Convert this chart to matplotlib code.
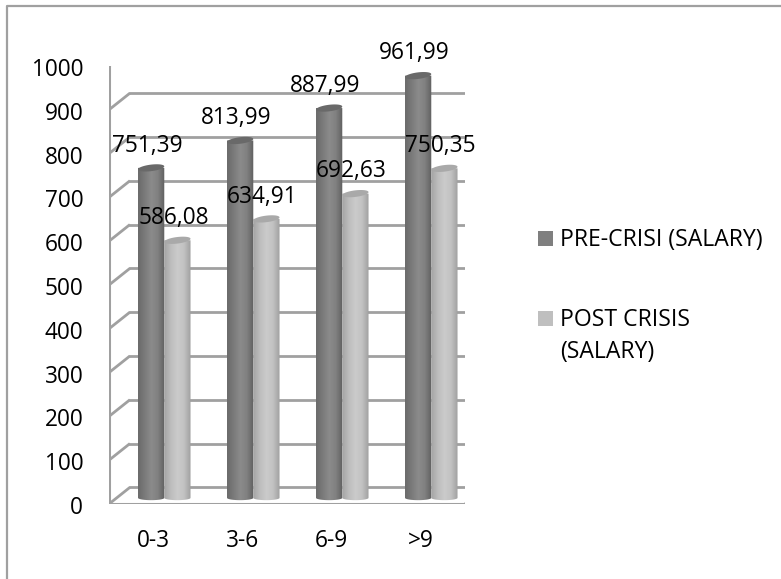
"""Salary before and after the crisis, by years of experience (3D-style cylinders)."""

import numpy as np
import matplotlib
matplotlib.use("Agg")
import matplotlib.pyplot as plt
from matplotlib.colors import LinearSegmentedColormap
from matplotlib.lines import Line2D
from matplotlib.patches import Polygon, Rectangle

categories = ["0-3", "3-6", "6-9", ">9"]
pre_crisis = [751.39, 813.99, 887.99, 961.99]
post_crisis = [586.08, 634.91, 692.63, 750.35]
y_ticks = [0, 100, 200, 300, 400, 500, 600, 700, 800, 900, 1000]
series_names = ["PRE-CRISI (SALARY)", "POST CRISIS", "(SALARY)"]

W, H = 781, 579
plt.rcParams["font.family"] = ["Open Sans", "DejaVu Sans"]
FONT = 16.3
LEGEND_FONT = 16.6
GRID = "#a0a0a0"

# depth of the fake 3D box, in data units
DX = 0.235
DY = 38.0
BAR_LIFT = 16.0
BAR_W = 0.295


def px_box(left, top, right, bottom):
    return [left / W, 1 - bottom / H, (right - left) / W, (bottom - top) / H]


def draw_box(ax):
    n = len(categories)
    for v in y_ticks:
        lw = 2.0
        ax.plot([0, DX], [v, v + DY], color=GRID, lw=lw, solid_capstyle="butt", zorder=1)
        ax.plot([DX, n + DX + 0.03], [v + DY, v + DY], color=GRID, lw=lw, zorder=1)
        ax.plot([-0.09, 0], [v, v], color=GRID, lw=lw, zorder=1)
    # floor and left edge
    ax.plot([0, n], [0, 0], color=GRID, lw=2.2, zorder=1)
    ax.plot([n, n + DX + 0.03], [0, DY], color=GRID, lw=2.0, zorder=1)
    ax.plot([0, 0], [0, 1000], color=GRID, lw=2.2, zorder=1)
    for i in range(n + 1):
        ax.plot([i, i], [0, -17], color=GRID, lw=2.0, zorder=1)


def draw_cylinder(ax, left, value, cmap, cap_color):
    rx = BAR_W / 2
    ry = 7.5
    tilt = 3.5
    cx = left + rx
    top = value + BAR_LIFT
    t = np.linspace(np.pi, 2 * np.pi, 40)
    xs = cx + rx * np.cos(t)
    ys = BAR_LIFT - 2 + ry * 0.7 * np.sin(t)
    outline = np.column_stack([np.r_[cx - rx, xs, cx + rx], np.r_[top, ys, top]])
    clip = Polygon(outline, closed=True, transform=ax.transData, fc="none", ec="none")
    ax.add_patch(clip)
    shade = np.linspace(0, 1, 64).reshape(1, -1)
    im = ax.imshow(shade, cmap=cmap, aspect="auto", zorder=3,
                   extent=[cx - rx, cx + rx, 0, top], interpolation="bilinear")
    im.set_clip_path(clip)

    # top face, leaning slightly up to the right
    t = np.linspace(0, 2 * np.pi, 60)
    cap_x = cx + rx * np.cos(t)
    cap_y = top + ry * np.sin(t) + tilt * np.cos(t)
    ax.add_patch(Polygon(np.column_stack([cap_x, cap_y]), closed=True,
                         fc=cap_color, ec="none", zorder=4))


def main():
    fig = plt.figure(figsize=(W / 100, H / 100), dpi=100, facecolor="white")

    # outer frame: only the top and left edges are visible
    fig.add_artist(Line2D([7.5 / W, 7.5 / W, 1], [0, 1 - 5.5 / H, 1 - 5.5 / H],
                          color="#a0a0a0", lw=1.6))

    ax = fig.add_axes(px_box(109, 66, 465, 504))
    ax.set_xlim(0, len(categories))
    ax.set_ylim(0, 1000)
    ax.axis("off")

    dark = LinearSegmentedColormap.from_list(
        "dark", ["#6a6a6a", "#7b7b7b", "#8b8b8b", "#808080", "#5f5f5f"])
    light = LinearSegmentedColormap.from_list(
        "light", ["#a4a4a4", "#bdbdbd", "#cbcbcb", "#c2c2c2", "#a0a0a0"])

    draw_box(ax)
    for i, (a, b) in enumerate(zip(pre_crisis, post_crisis)):
        draw_cylinder(ax, i + 0.326, a, dark, "#696969")
        draw_cylinder(ax, i + 0.326 + BAR_W, b, light, "#a9a9a9")
    ax.set_xlim(0, len(categories))
    ax.set_ylim(0, 1000)

    for i, (a, b) in enumerate(zip(pre_crisis, post_crisis)):
        for offset, v in ((0.43, a), (0.725, b)):
            ax.text(i + offset, v + 16 + 51, f"{v:.2f}".replace(".", ","), ha="center",
                    va="center", fontsize=FONT, color="black", zorder=6, clip_on=False)

    for v in y_ticks:
        ax.text(-0.29, v - 9, str(v), ha="right", va="center", fontsize=FONT,
                color="black", clip_on=False)
    for i, name in enumerate(categories):
        ax.text(i + 0.5, -84, name, ha="center", va="center", fontsize=FONT,
                color="black", clip_on=False)

    # legend
    fig.add_artist(Rectangle((538 / W, 1 - 246 / H), 15 / W, 15 / H,
                             transform=fig.transFigure, fc="#7f7f7f", ec="none"))
    fig.add_artist(Rectangle((538 / W, 1 - 326 / H), 15 / W, 15 / H,
                             transform=fig.transFigure, fc="#bfbfbf", ec="none"))
    fig.text(560 / W, 1 - 240 / H, series_names[0], fontsize=LEGEND_FONT, va="center", color="black")
    fig.text(560 / W, 1 - 320 / H, series_names[1], fontsize=LEGEND_FONT, va="center", color="black")
    fig.text(560 / W, 1 - 352 / H, series_names[2], fontsize=LEGEND_FONT, va="center", color="black")

    fig.savefig("out.png", dpi=100, facecolor="white")


if __name__ == "__main__":
    main()
